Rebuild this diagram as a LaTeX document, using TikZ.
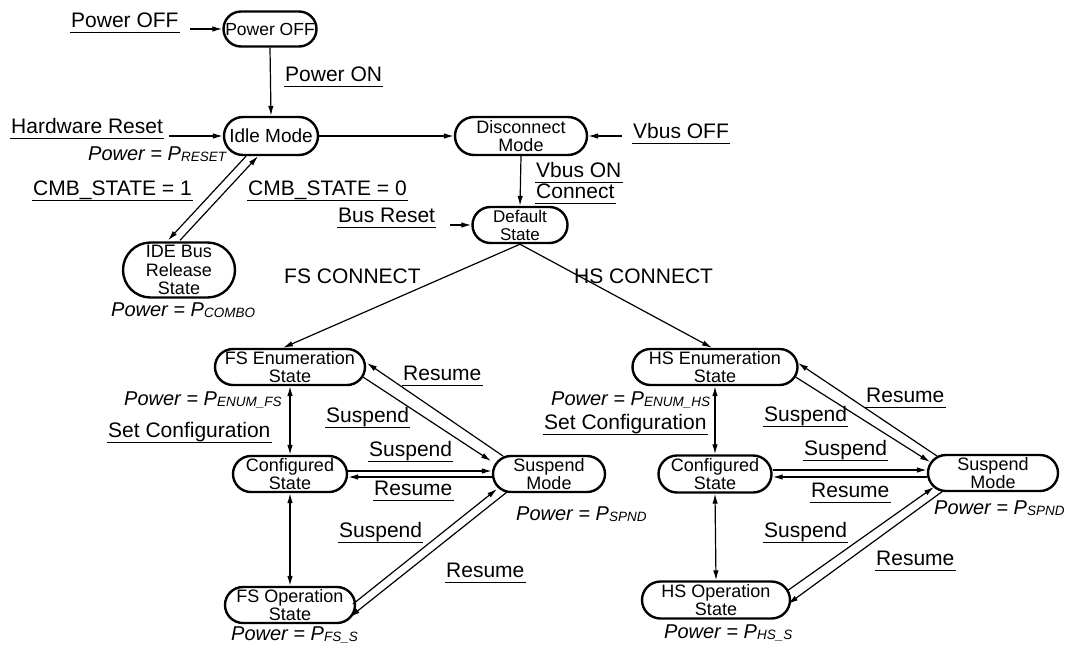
\documentclass[tikz,border=0pt]{standalone}
\usepackage{fontspec}
\setmainfont{Liberation Sans}
\usetikzlibrary{arrows.meta,shapes.misc}
\newcommand\pwr[1]{\textit{Power = P{\fontsize{13.5}{13.5}\selectfont\raisebox{-1.5pt}{#1}}}}
\begin{document}
\begin{tikzpicture}[x=1pt,y=-1pt,
  st/.style={rounded rectangle, draw, line width=2.4pt, inner sep=0pt, align=center,
    font=\fontsize{18}{18.5}\selectfont},
  arr/.style={line width=1.2pt, -{Latex[length=10pt,width=5.5pt]}},
  darr/.style={line width=1.2pt, {Latex[length=10pt,width=5.5pt]}-{Latex[length=10pt,width=5.5pt]}},
  ulline/.style={draw, line width=1.3pt, -},
  lbl/.style={font=\fontsize{21}{21}\selectfont, inner xsep=1pt, inner ysep=0pt, anchor=base west},
  ul/.style={lbl, text depth=4pt, inner ysep=1pt,
    append after command={(\tikzlastnode.south west) edge[ulline] (\tikzlastnode.south east)}},
  pw/.style={lbl, font=\fontsize{20}{20}\selectfont}]
\fill[white] (0,0) rectangle (1068,646);
\useasboundingbox (0,0) rectangle (1068,646);

% states
\node[st, minimum width=93pt, minimum height=35pt, font=\fontsize{17.5}{18}\selectfont] (poff) at (270,29) {Power OFF};
\node[st, minimum width=94pt, minimum height=38pt, font=\fontsize{19}{19}\selectfont] (idle) at (271,136) {Idle Mode};
\node[st, minimum width=132pt, minimum height=38pt] (disc) at (521,136) {Disconnect\\Mode};
\node[st, minimum width=95pt, minimum height=36pt, font=\fontsize{17}{18}\selectfont] (def) at (520,225) {Default\\State};
\node[st, minimum width=112pt, minimum height=55pt] (ide) at (179,270) {IDE Bus\\Release\\State};
\node[st, minimum width=150pt, minimum height=36pt] (fsenum) at (290,367) {FS Enumeration\\State};
\node[st, minimum width=114pt, minimum height=36pt] (fscfg) at (290,474) {Configured\\State};
\node[st, minimum width=112pt, minimum height=36pt] (fssus) at (549,474) {Suspend\\Mode};
\node[st, minimum width=130pt, minimum height=36pt] (fsop) at (290,605) {FS Operation\\State};
\node[st, minimum width=165pt, minimum height=36pt] (hsenum) at (715,367) {HS Enumeration\\State};
\node[st, minimum width=113pt, minimum height=37pt] (hscfg) at (715,474) {Configured\\State};
\node[st, minimum width=130pt, minimum height=36pt] (hssus) at (993,473) {Suspend\\Mode};
\node[st, minimum width=148pt, minimum height=37pt] (hsop) at (716,600) {HS Operation\\State};

% free ends
\coordinate (inpoff) at (190,29);
\coordinate (inhw) at (169,136);
\coordinate (invbus) at (622,136);
\coordinate (inbus) at (450,225);

% labels
\node[ul] (lpoff) at (70,27) {Power OFF};
\node[ul] (lpon) at (284,81) {Power ON};
\node[ul] (lhw) at (10,133) {Hardware Reset};
\node[pw] (preset) at (87,160) {\pwr{RESET}};
\node[ul] (lvoff) at (632,138) {Vbus OFF};
\node[ul] (lvon) at (535,177) {Vbus ON};
\node[ul] (lconn) at (535,198) {Connect};
\node[ul] (lcmb1) at (32,195) {CMB\_STATE = 1};
\node[ul] (lcmb0) at (247,195) {CMB\_STATE = 0};
\node[ul] (lbus) at (337,222) {Bus Reset};
\node[lbl] (lfs) at (283,283) {FS CONNECT};
\node[lbl] (lhs) at (573,283) {HS CONNECT};
\node[pw] (pcombo) at (110,316) {\pwr{COMBO}};

\node[ul] (fsres1) at (402,380) {Resume};
\node[pw] (penfs) at (123,405) {\pwr{ENUM\_FS}};
\node[ul] (fssusl1) at (325,422) {Suspend};
\node[ul] (fsset) at (107,437) {Set Configuration};
\node[ul] (fssusl2) at (368,456) {Suspend};
\node[ul] (fsres2) at (373,495) {Resume};
\node[pw] (pspfs) at (515,520) {\pwr{SPND}};
\node[ul] (fssusl3) at (338,537) {Suspend};
\node[ul] (fsres3) at (445,577) {Resume};
\node[pw] (pfss) at (230,640) {\pwr{FS\_S}};

\node[ul] (hsres1) at (865,402) {Resume};
\node[pw] (penhs) at (550,405) {\pwr{ENUM\_HS}};
\node[ul] (hssusl1) at (763,421) {Suspend};
\node[ul] (hsset) at (543,429) {Set Configuration};
\node[ul] (hssusl2) at (803,455) {Suspend};
\node[ul] (hsres2) at (810,497) {Resume};
\node[pw] (psphs) at (933,514) {\pwr{SPND}};
\node[ul] (hssusl3) at (763,537) {Suspend};
\node[ul] (hsres3) at (875,565) {Resume};
\node[pw] (phss) at (663,638) {\pwr{HS\_S}};

% connectors
\draw[arr] (inpoff) -- (poff.west);
\draw[arr] (poff.south) -- (idle.north);
\draw[arr] (inhw) -- (idle.west);
\draw[arr] (idle.east) -- (disc.west);
\draw[arr] (invbus) -- (disc.east);
\draw[arr] (disc.south) -- (def.north);
\draw[arr] (inbus) -- (def.west);
\draw[arr] ([shift={(-25,0)}]idle.south) -- ([shift={(-11,-1)}]ide.north);
\draw[arr] ([shift={(1,-1)}]ide.north) -- ([shift={(-13,0)}]idle.south);
\draw[arr] (def.south) -- ([shift={(-7,0)}]fsenum.north);
\draw[arr] (def.south) -- ([shift={(-3,0)}]hsenum.north);

% FS branch
\draw[darr] (fsenum.south) -- (fscfg.north);
\draw[darr] (fscfg.south) -- (fsop.north);
\draw[arr] ([shift={(-46,-18)}]fssus.center) -- ([shift={(77,-4)}]fsenum.center);
\draw[arr] ([shift={(73,10)}]fsenum.center) -- ([shift={(-58,-13)}]fssus.center);
\draw[arr] ([shift={(0,-3)}]fscfg.east) -- ([shift={(0,-3)}]fssus.west);
\draw[arr] ([shift={(0,3)}]fssus.west) -- ([shift={(0,3)}]fscfg.east);
\draw[arr] ([shift={(63,-1)}]fsop.center) -- ([shift={(-52,15)}]fssus.center);
\draw[arr] ([shift={(-42,18)}]fssus.center) -- ([shift={(60,12)}]fsop.center);

% HS branch
\draw[darr] (hsenum.south) -- (hscfg.north);
\draw[darr] (hscfg.south) -- (hsop.north);
\draw[arr] ([shift={(-56,-17)}]hssus.center) -- ([shift={(83,-4)}]hsenum.center);
\draw[arr] ([shift={(79,9)}]hsenum.center) -- ([shift={(-63,-11)}]hssus.center);
\draw[arr] ([shift={(0,-4)}]hscfg.east) -- ([shift={(0,-3)}]hssus.west);
\draw[arr] ([shift={(0,4)}]hssus.west) -- ([shift={(0,3)}]hscfg.east);
\draw[arr] ([shift={(71,-9)}]hsop.center) -- ([shift={(-59,14)}]hssus.center);
\draw[arr] ([shift={(-50,18)}]hssus.center) -- ([shift={(72,4)}]hsop.center);
\end{tikzpicture}
\end{document}
